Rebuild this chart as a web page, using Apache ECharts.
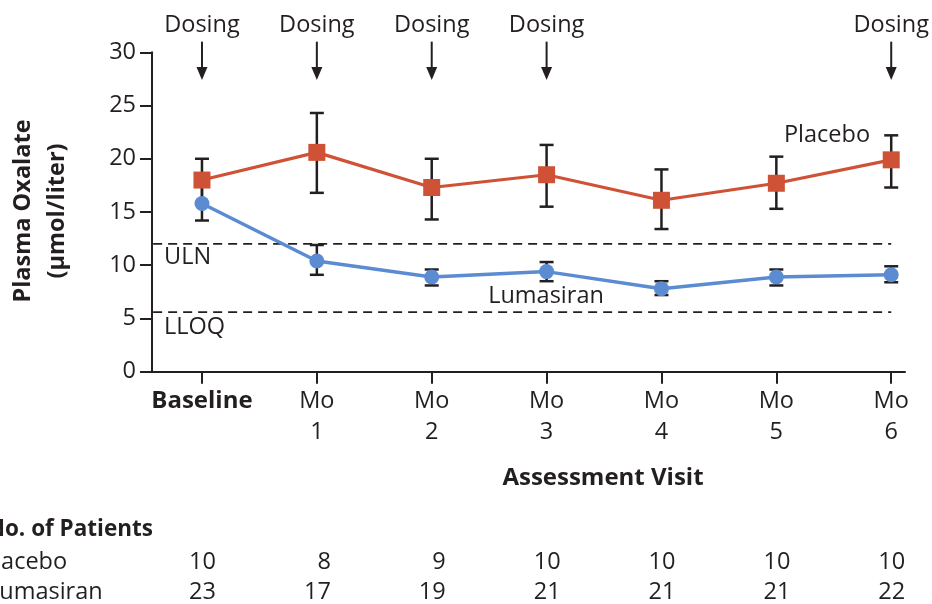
<!DOCTYPE html>
<html>
<head>
<meta charset="utf-8">
<script src="https://cdn.jsdelivr.net/npm/echarts@6/dist/echarts.min.js"></script>
<style>
  html, body { margin: 0; padding: 0; background: #fff; }
  #chart { width: 932px; height: 604px; }
</style>
</head>
<body>
<div id="chart"></div>
<script>
// visits on the x axis (index = position)
const visits = ['Baseline', 'Mo 1', 'Mo 2', 'Mo 3', 'Mo 4', 'Mo 5', 'Mo 6']

// plasma oxalate (umol/liter), mean and error bar ends
const placeboMean = [18.0, 20.6, 17.3, 18.5, 16.1, 17.7, 19.9]
const placeboLow = [15.9, 16.8, 14.3, 15.5, 13.4, 15.3, 17.3]
const placeboHigh = [20.0, 24.3, 20.0, 21.3, 19.0, 20.2, 22.2]

const lumasiranMean = [15.8, 10.4, 8.9, 9.4, 7.8, 8.9, 9.1]
const lumasiranLow = [14.2, 9.1, 8.1, 8.5, 7.2, 8.1, 8.4]
const lumasiranHigh = [17.4, 11.9, 9.6, 10.3, 8.5, 9.6, 9.9]

// reference levels
const uln = 12.0
const lloq = 5.6

// visits with a dosing arrow
const dosingVisits = [0, 1, 2, 3, 6]

// number of patients per visit
const placeboN = [10, 8, 9, 10, 10, 10, 10]
const lumasiranN = [23, 17, 19, 21, 21, 21, 22]

const ink = '#231f20'
const font = 'Open Sans'
const red = '#cf5236'
const blue = '#5b8bd0'
const fs = 23.5
const fsBold = 24

const chart = echarts.init(document.getElementById('chart'))

const xMin = -0.435
const xMax = 6.12

// error bars drawn as custom shapes
const errorBars = (low, high) => ({
  type: 'custom',
  clip: false,
  data: low.map((l, i) => [i, l, high[i]]),
  renderItem: (params, api) => {
    const x = api.value(0)
    const lo = api.coord([x, api.value(1)])
    const hi = api.coord([x, api.value(2)])
    const w = 7
    const st = { stroke: ink, lineWidth: 2.5 }
    return {
      type: 'group',
      children: [
        { type: 'line', shape: { x1: lo[0], y1: lo[1], x2: hi[0], y2: hi[1] }, style: st },
        { type: 'line', shape: { x1: lo[0] - w, y1: lo[1], x2: lo[0] + w, y2: lo[1] }, style: st },
        { type: 'line', shape: { x1: hi[0] - w, y1: hi[1], x2: hi[0] + w, y2: hi[1] }, style: st }
      ]
    }
  }
})

// dashed reference line across the plot
const refLine = (level) => ({
  type: 'line',
  data: [[xMin + 0.01, level], [6.0, level]],
  symbol: 'none',
  silent: true,
  lineStyle: { color: ink, width: 1.8, type: [9, 6] }
})

// patient counts under each visit
const countRow = (counts, rowY) => ({
  type: 'custom',
  clip: false,
  silent: true,
  data: counts.map((n, i) => [i, n]),
  renderItem: (params, api) => {
    const px = api.coord([api.value(0), 0])[0]
    return {
      type: 'text',
      style: {
        x: px + 14, y: rowY, text: String(api.value(1)),
        align: 'right', verticalAlign: 'middle',
        fontSize: fs, fontFamily: font, fill: ink
      }
    }
  }
})

chart.setOption({
  animation: false,
  grid: { left: 152, right: 27, top: 52.3, bottom: 232.3 },
  xAxis: {
    type: 'value',
    min: xMin,
    max: xMax,
    splitLine: { show: false },
    axisLine: { show: true, onZero: false, lineStyle: { color: ink, width: 2 } },
    axisTick: { show: true, length: 12, customValues: [0, 1, 2, 3, 4, 5, 6], lineStyle: { color: ink, width: 2 } },
    axisLabel: {
      customValues: [0, 1, 2, 3, 4, 5, 6],
      margin: 14,
      color: ink,
      fontFamily: font,
      formatter: (v) => {
        const name = visits[Math.round(v)]
        if (Math.round(v) === 0) return '{b|' + name + '}'
        const parts = name.split(' ')
        return '{n|' + parts[0] + '}\n{n|' + parts[1] + '}'
      },
      rich: {
        b: { fontSize: fsBold, fontWeight: 'bold', fontFamily: font, color: ink, lineHeight: 31 },
        n: { fontSize: fs, fontFamily: font, color: ink, lineHeight: 31 }
      }
    }
  },
  yAxis: {
    type: 'value',
    min: 0,
    max: 30,
    interval: 5,
    splitLine: { show: false },
    axisLine: { show: true, onZero: false, lineStyle: { color: ink, width: 2 } },
    axisTick: { show: true, length: 12, lineStyle: { color: ink, width: 2 } },
    axisLabel: { margin: 16, fontSize: fs, fontFamily: font, color: ink }
  },
  series: [
    refLine(uln),
    refLine(lloq),
    errorBars(placeboLow, placeboHigh),
    errorBars(lumasiranLow, lumasiranHigh),
    {
      type: 'line',
      name: 'Placebo',
      data: placeboMean.map((v, i) => [i, v]),
      symbol: 'rect',
      symbolSize: 17,
      itemStyle: { color: red },
      lineStyle: { color: red, width: 3.2 }
    },
    {
      type: 'line',
      name: 'Lumasiran',
      data: lumasiranMean.map((v, i) => [i, v]),
      symbol: 'circle',
      symbolSize: 15,
      itemStyle: { color: blue },
      lineStyle: { color: blue, width: 3.5 }
    },
    {
      // dosing arrows above the plot
      type: 'custom',
      clip: false,
      silent: true,
      data: dosingVisits.map((v) => [v, 31.0, 27.4]),
      renderItem: (params, api) => {
        const top = api.coord([api.value(0), api.value(1)])
        const tip = api.coord([api.value(0), api.value(2)])
        const head = 13
        return {
          type: 'group',
          children: [
            { type: 'line', shape: { x1: top[0], y1: top[1], x2: tip[0], y2: tip[1] - head + 2 }, style: { stroke: ink, lineWidth: 2 } },
            { type: 'polygon', shape: { points: [[tip[0] - 5.5, tip[1] - head], [tip[0] + 5.5, tip[1] - head], [tip[0], tip[1]]] }, style: { fill: ink } },
            { type: 'text', style: { x: top[0], y: top[1] - 16, text: 'Dosing', align: 'center', verticalAlign: 'middle', fontSize: fs, fontFamily: font, fill: ink } }
          ]
        }
      }
    },
    countRow(placeboN, 562),
    countRow(lumasiranN, 592)
  ],
  graphic: [
    {
      type: 'text', x: 40, y: 211, rotation: Math.PI / 2,
      style: {
        text: 'Plasma Oxalate\n(\u03bcmol/liter)', align: 'center', verticalAlign: 'middle',
        fontSize: fs, fontWeight: 'bold', fontFamily: font, fill: ink, lineHeight: 34
      }
    },
    { type: 'text', x: 603, y: 478, style: { text: 'Assessment Visit', align: 'center', verticalAlign: 'middle', fontSize: fsBold, fontWeight: 'bold', fontFamily: font, fill: ink } },
    { type: 'text', x: 164, y: 257, style: { text: 'ULN', verticalAlign: 'middle', fontSize: fs, fontFamily: font, fill: ink } },
    { type: 'text', x: 164, y: 327, style: { text: 'LLOQ', verticalAlign: 'middle', fontSize: fs, fontFamily: font, fill: ink } },
    { type: 'text', x: 827, y: 135, style: { text: 'Placebo', align: 'center', verticalAlign: 'middle', fontSize: fs, fontFamily: font, fill: ink } },
    { type: 'text', x: 546, y: 296, style: { text: 'Lumasiran', align: 'center', verticalAlign: 'middle', fontSize: fs, fontFamily: font, fill: ink } },
    { type: 'text', x: 153, y: 530, style: { text: 'No. of Patients', align: 'right', verticalAlign: 'middle', fontSize: 22.5, fontWeight: 'bold', fontFamily: font, fill: ink } },
    { type: 'text', x: -19, y: 562, style: { text: 'Placebo', verticalAlign: 'middle', fontSize: fs, fontFamily: font, fill: ink } },
    { type: 'text', x: -13, y: 592, style: { text: 'Lumasiran', verticalAlign: 'middle', fontSize: fs, fontFamily: font, fill: ink } }
  ]
})
</script>
</body>
</html>
